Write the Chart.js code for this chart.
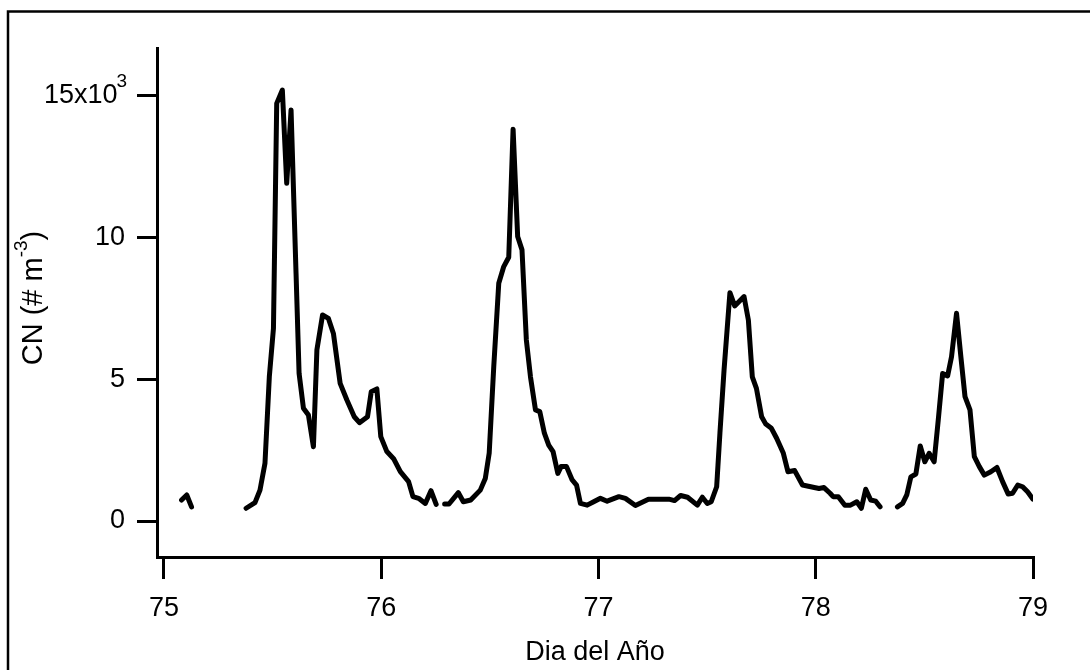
<!DOCTYPE html>
<html lang="es">

<head>
    <meta charset="UTF-8" />
    <title>CN - Dia del Año</title>
    <script src="https://cdn.jsdelivr.net/npm/chart.js"></script>
    <style>
        html, body { margin: 0; padding: 0; background: #fff; }
        canvas { display: block; }
    </style>
</head>

<body>
    <canvas id="graficoCN" width="1090" height="670"></canvas>

    <script>
        // Dia del año (fracción) y concentración CN (# m-3); null = hueco sin datos
        const dia = [
            75.081, 75.105, 75.127, 75.25,
            75.378, 75.419, 75.442, 75.465, 75.485, 75.504, 75.519, 75.545, 75.565, 75.585,
            75.608, 75.622, 75.642, 75.665, 75.688, 75.704, 75.730, 75.757, 75.780, 75.811,
            75.842, 75.876, 75.900, 75.937, 75.954, 75.980, 75.998, 76.026, 76.057, 76.088,
            76.126, 76.146, 76.172, 76.203, 76.229, 76.253, 76.27,
            76.292, 76.312, 76.355, 76.378, 76.412, 76.456, 76.479, 76.497, 76.518, 76.541,
            76.564, 76.587, 76.607, 76.628, 76.648, 76.668, 76.687, 76.710, 76.730, 76.751,
            76.771, 76.791, 76.813, 76.828, 76.853, 76.879, 76.899, 76.917, 76.948, 76.978,
            77.009, 77.040, 77.094, 77.124, 77.170, 77.230, 77.324, 77.350, 77.378, 77.410,
            77.455, 77.478, 77.501, 77.519, 77.544, 77.559, 77.578, 77.605, 77.627, 77.670,
            77.690, 77.708, 77.727, 77.751, 77.770, 77.796, 77.820, 77.851, 77.872, 77.903,
            77.939, 77.977, 78.015, 78.038, 78.066, 78.080, 78.104, 78.134, 78.160, 78.189,
            78.210, 78.230, 78.253, 78.276, 78.296, 78.33,
            78.376, 78.400, 78.419, 78.438, 78.461, 78.481, 78.502, 78.522, 78.545, 78.564,
            78.584, 78.607, 78.625, 78.648, 78.668, 78.687, 78.710, 78.730, 78.753, 78.776,
            78.806, 78.834, 78.860, 78.886, 78.906, 78.930, 78.952, 78.975, 79.000
        ];

        const cn = [
            740, 920, 500, null,
            450, 650, 1090, 2040, 5090, 6800, 14740, 15210, 11920, 14510,
            8740, 5210, 3980, 3740, 2620, 6040, 7270, 7150, 6620, 4860,
            4270, 3680, 3470, 3680, 4560, 4660, 2980, 2450, 2200, 1740,
            1390, 860, 800, 620, 1070, 590, null,
            600, 600, 1000, 680, 740, 1090, 1500, 2400, 5450, 8390,
            8980, 9310, 13830, 10040, 9570, 6390, 5090, 3920, 3860, 3100,
            2680, 2450, 1680, 1920, 1920, 1450, 1270, 620, 560, 680,
            800, 700, 860, 800, 550, 770, 770, 720, 900, 840,
            560, 840, 620, 680, 1210, 3100, 5330, 8060, 7590, 7920,
            7090, 5090, 4680, 3680, 3420, 3270, 2920, 2390, 1740, 1780,
            1270, 1210, 1150, 1180, 980, 860, 860, 560, 560, 680,
            450, 1120, 740, 700, 500, null,
            500, 620, 920, 1560, 1660, 2650, 2090, 2390, 2090, 3570,
            5210, 5120, 5800, 7330, 5800, 4390, 3920, 2270, 1920, 1620,
            1740, 1890, 1390, 950, 980, 1270, 1210, 1030, 770
        ];

        const ticksX = [75, 76, 77, 78, 79];
        const ticksY = [0, 5000, 10000, 15000];

        const fuente = { family: "'Liberation Sans', Arial, sans-serif", size: 27 };
        const familia = "'Liberation Sans', Arial, sans-serif";

        // fondo blanco, marco exterior, exponente de la escala y título del eje Y
        const decoracion = {
            id: 'decoracion',
            beforeDraw(chart) {
                const ctx = chart.ctx;
                ctx.save();
                ctx.fillStyle = '#fff';
                ctx.fillRect(0, 0, chart.width, chart.height);
                ctx.restore();
            },
            afterDraw(chart) {
                const ctx = chart.ctx;
                ctx.save();
                ctx.strokeStyle = '#000';
                ctx.lineWidth = 2.5;
                ctx.strokeRect(8, 11.5, chart.width + 20, chart.height + 20);

                // exponente "3" del rótulo 15x10
                const y15 = chart.scales.y.getPixelForValue(15000);
                ctx.fillStyle = '#000';
                ctx.font = '19px ' + familia;
                ctx.textAlign = 'right';
                ctx.textBaseline = 'middle';
                ctx.fillText('3', 127, y15 - 14);

                ctx.translate(34, 298);
                ctx.rotate(-Math.PI / 2);
                ctx.textAlign = 'left';
                const base = '29px ' + familia;
                const sup = '19px ' + familia;
                const t1 = 'CN (# m', t2 = '-3', t3 = ')';
                ctx.font = base;
                const w1 = ctx.measureText(t1).width, w3 = ctx.measureText(t3).width;
                ctx.font = sup;
                const w2 = ctx.measureText(t2).width;
                let x = -(w1 + w2 + w3) / 2;
                ctx.font = base;
                ctx.fillText(t1, x, 0);
                x += w1;
                ctx.font = sup;
                ctx.fillText(t2, x, -12);
                x += w2;
                ctx.font = base;
                ctx.fillText(t3, x, 0);
                ctx.restore();
            }
        };

        new Chart(document.getElementById('graficoCN').getContext('2d'), {
            type: 'line',
            data: {
                labels: dia,
                datasets: [{
                    data: dia.map((d, i) => ({ x: d, y: cn[i] })),
                    borderColor: '#000',
                    borderWidth: 5,
                    borderJoinStyle: 'round',
                    borderCapStyle: 'round',
                    pointRadius: 0,
                    tension: 0,
                    spanGaps: false,
                    fill: false
                }]
            },
            options: {
                responsive: false,
                devicePixelRatio: 1,
                animation: false,
                events: [],
                layout: { padding: { top: 48, right: 57, left: 0, bottom: 0 } },
                plugins: { legend: { display: false }, tooltip: { enabled: false } },
                scales: {
                    x: {
                        type: 'linear',
                        min: 74.968,
                        max: 79,
                        afterBuildTicks: s => { s.ticks = ticksX.map(v => ({ value: v })); },
                        afterFit: s => { s.height = 113; },
                        grid: { drawOnChartArea: false, drawTicks: true, tickLength: 22, lineWidth: 3, color: '#000' },
                        border: { display: true, color: '#000', width: 3 },
                        ticks: { color: '#000', font: fuente, padding: 13, maxRotation: 0, autoSkip: false },
                        title: { display: true, text: 'Dia del Año', color: '#000', font: fuente, padding: { top: 0, bottom: 1 } }
                    },
                    y: {
                        min: -1270,
                        max: 16694,
                        afterBuildTicks: s => { s.ticks = ticksY.map(v => ({ value: v })); },
                        afterFit: s => { s.width = 157; },
                        grid: { drawOnChartArea: false, drawTicks: true, tickLength: 20, lineWidth: 3, color: '#000' },
                        border: { display: true, color: '#000', width: 3 },
                        ticks: {
                            color: '#000',
                            font: fuente,
                            padding: 12,
                            // hueco a la derecha para el exponente
                            callback: v => v === 15000 ? '15x10 ' : String(v / 1000)
                        }
                    }
                }
            },
            plugins: [decoracion]
        });
    </script>
</body>
</html>
